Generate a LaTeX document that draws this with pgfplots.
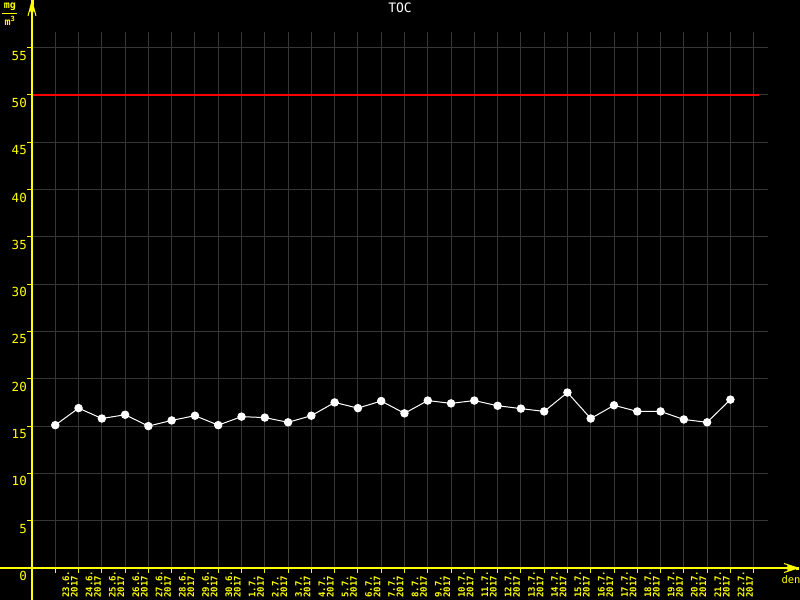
\documentclass[border=0pt]{standalone}
\usepackage{pgfplots}
\pgfplotsset{compat=1.18}
\usepackage{fontspec}
\setmainfont{DejaVu Sans Mono}
\definecolor{gridgray}{RGB}{55,55,55}
\definecolor{ylw}{RGB}{255,255,0}
\begin{document}
\begin{tikzpicture}
\fill[black] (-32bp,-32bp) rectangle (768bp,568bp);
\begin{axis}[
  anchor=origin, at={(0,0)},
  x=23.28bp, y=9.46bp,
  xmin=0, xmax=31.6, ymin=0, ymax=56.7,
  clip=false,
  axis line style={draw=none},
  grid=major,
  grid style={color=gridgray, line width=1bp},
  tick style={ylw, line width=1bp},
  tick align=outside,
  major tick length=5bp,
  xtick pos=bottom, ytick pos=left,
  ytick={0,5,...,55},
  xtick={1,...,31},
  xticklabels={{23.6.\\2017},{24.6.\\2017},{25.6.\\2017},{26.6.\\2017},{27.6.\\2017},{28.6.\\2017},{29.6.\\2017},{30.6.\\2017},{1.7.\\2017},{2.7.\\2017},{3.7.\\2017},{4.7.\\2017},{5.7.\\2017},{6.7.\\2017},{7.7.\\2017},{8.7.\\2017},{9.7.\\2017},{10.7.\\2017},{11.7.\\2017},{12.7.\\2017},{13.7.\\2017},{14.7.\\2017},{15.7.\\2017},{16.7.\\2017},{17.7.\\2017},{18.7.\\2017},{19.7.\\2017},{20.7.\\2017},{21.7.\\2017},{22.7.\\2017},{}},
  xticklabel style={rotate=90, anchor=north west, inner sep=0pt, align=left,
    text=ylw, font=\fontsize{9bp}{8.5bp}\selectfont\bfseries, xshift=-25bp, yshift=-7bp},
  yticklabel style={anchor=north east, inner sep=0pt, text=ylw,
    font=\fontsize{12.5bp}{14bp}\selectfont, yshift=-3bp},
  /pgf/number format/assume math mode=true,
]
\addplot[red, line width=2bp] coordinates {(0,50) (31.23,50)};
\addplot[white, line width=1bp, mark=*, mark size=3.7bp, mark options={fill=white, draw=white}] coordinates {
(1,15.1) (2,16.9) (3,15.8) (4,16.2) (5,15.0) (6,15.6) (7,16.1) (8,15.1) (9,16.0) (10,15.9)
(11,15.4) (12,16.1) (13,17.5) (14,16.9) (15,17.65) (16,16.35) (17,17.7) (18,17.4) (19,17.7) (20,17.15)
(21,16.85) (22,16.55) (23,18.55) (24,15.8) (25,17.2) (26,16.55) (27,16.55) (28,15.7) (29,15.4) (30,17.8)
};
\end{axis}
% axis lines
\draw[ylw, line width=1.2bp] (-32bp,0) -- (766bp,0);
\draw[ylw, line width=1.2bp] (0,-32bp) -- (0,567bp);
% arrow heads
\draw[ylw, line width=1bp] (766bp,0) -- (752bp,4.5bp) (766bp,0) -- (752bp,-4.5bp)
  (766bp,0) -- (755bp,2bp) (766bp,0) -- (755bp,-2bp);
\fill[ylw] (764bp,-1.5bp) rectangle (767bp,1.5bp);
\draw[ylw, line width=1bp] (0,567bp) -- (-4bp,552bp) (0,567bp) -- (4bp,552bp)
  (0,567bp) -- (-2bp,556bp) (0,567bp) -- (2bp,556bp);
\fill[ylw] (-1.5bp,563bp) rectangle (1.5bp,568bp);
% texts
\node[white, font=\fontsize{13bp}{15bp}\selectfont, inner sep=0pt] at (368bp,560bp) {TOC};
\node[ylw, font=\fontsize{10bp}{11bp}\selectfont\bfseries, inner sep=0pt] at (-22bp,561bp) {mg};
\draw[ylw, line width=1.2bp] (-30bp,554.5bp) -- (-15bp,554.5bp);
\node[ylw, font=\fontsize{10bp}{11bp}\selectfont\bfseries, inner sep=0pt] at (-22bp,547bp) {m\textsuperscript{3}};
\node[ylw, font=\fontsize{10.5bp}{11bp}\selectfont, inner sep=0pt] at (759bp,-12bp) {den};
\pgfresetboundingbox
\path[use as bounding box] (-32bp,-32bp) rectangle (768bp,568bp);
\end{tikzpicture}
\end{document}
